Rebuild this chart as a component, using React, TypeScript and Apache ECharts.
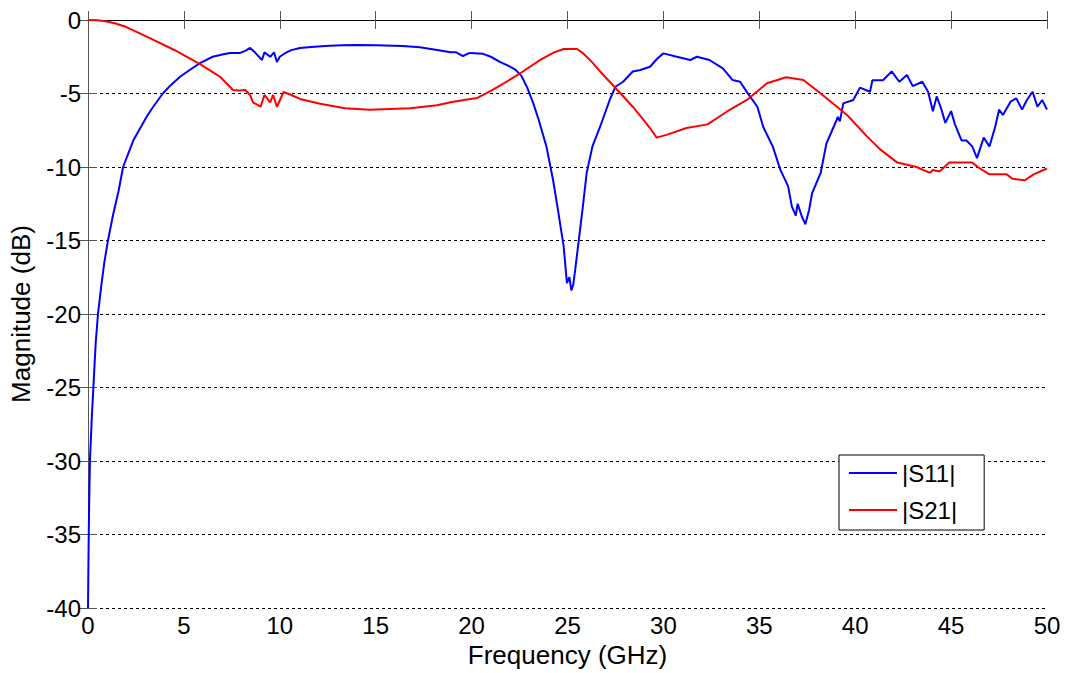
import React, { useEffect, useRef } from "react";
import * as echarts from "echarts";

const FONT = "'Liberation Sans', Arial, sans-serif";

const xTicks = [0, 5, 10, 15, 20, 25, 30, 35, 40, 45, 50];
const yTicks = [-40, -35, -30, -25, -20, -15, -10, -5, 0];

const seriesNames = ["|S11|", "|S21|"];

const s11Freq = [
  0, 0.03, 0.06, 0.1, 0.2, 0.3, 0.4, 0.52, 0.7, 0.85, 1.04, 1.3, 1.6, 1.83, 2.36, 3.05, 3.4, 3.9, 4.3, 4.8,
  5.3, 5.84, 6.5, 7.0, 7.4, 7.9, 8.2, 8.45, 8.7, 9.07, 9.2, 9.5, 9.7, 9.85, 10.0, 10.27, 10.6, 11.05, 11.8,
  12.6, 13.3, 14, 15, 16.4, 17.3, 18.2, 18.9, 19.2, 19.55, 19.9, 20.6, 21.0, 21.5, 21.9, 22.3, 22.6, 22.9,
  23.2, 23.5, 23.9, 24.25, 24.5, 24.8, 24.97, 25.1, 25.2, 25.3, 25.4, 25.55, 25.8, 26.0, 26.3, 26.7,
  27.2, 27.5, 27.9, 28.4, 28.8, 29.3, 29.7, 30.0, 30.7, 31.4, 31.75, 32.4, 33.1, 33.6, 34.0, 34.4, 34.9,
  35.2, 35.7, 36.1, 36.5, 36.7, 36.9, 37.0, 37.2, 37.4, 37.6, 37.75, 38.2, 38.5, 38.8, 39.1, 39.2, 39.38,
  39.9, 40.25, 40.77, 40.9, 41.45, 41.9, 42.3, 42.7, 43.0, 43.5, 43.8, 44.05, 44.25, 44.5, 44.7, 45.0,
  45.2, 45.55, 45.8, 46.1, 46.35, 46.7, 47.0, 47.3, 47.5, 47.7, 48.1, 48.4, 48.7, 48.95, 49.25, 49.5,
  49.75, 50,
];
const s11Mag = [
  -40, -36, -33, -30, -27, -24.5, -22, -20, -18, -16.5, -15, -13.3, -11.6, -10, -8.2, -6.6, -5.9, -5, -4.45, -3.86,
  -3.4, -2.93, -2.5, -2.35, -2.24, -2.25, -2.1, -1.9, -2.2, -2.72, -2.2, -2.5, -2.2, -2.86, -2.5, -2.26, -2.05, -1.9, -1.82,
  -1.75, -1.72, -1.7, -1.72, -1.77, -1.85, -2.04, -2.2, -2.2, -2.45, -2.24, -2.3, -2.5, -2.86, -3.1, -3.4, -3.8, -4.6,
  -5.6, -6.8, -8.6, -10.9, -12.9, -15.4, -17.9, -17.5, -18.4, -18.0, -17, -15.4, -12.7, -10.4, -8.6, -7.26,
  -5.44, -4.54, -4.2, -3.5, -3.4, -3.18, -2.6, -2.27, -2.5, -2.72, -2.5, -2.72, -3.29, -4.08, -4.2, -4.99, -5.9,
  -7.26, -8.6, -10.2, -11.3, -12.7, -13.3, -12.5, -13.3, -13.9, -12.9, -11.8, -10.4, -8.4, -7.5, -6.6, -6.9, -5.67,
  -5.44, -4.6, -4.88, -4.1, -4.1, -3.5, -4.2, -3.74, -4.5, -4.2, -4.88, -6.2, -5.2, -6.1, -7.0, -6.2,
  -7.1, -8.2, -8.2, -8.6, -9.4, -8.0, -8.6, -7.26, -6.1, -6.46, -5.56, -5.33, -6.1, -5.44, -4.88, -5.9,
  -5.44, -6.1,
];

const s21Freq = [
  0, 0.5, 0.9, 1.4, 2.0, 3.2, 4.5, 5.84, 6.5, 6.9, 7.56, 7.9, 8.2, 8.45, 8.6, 9.0, 9.2, 9.5, 9.65, 9.85, 10.2, 10.6,
  11.05, 12.1, 13.4, 14.7, 16.8, 18.2, 18.9, 19.6, 20.3, 21.1, 22.4, 23.6, 24.3, 24.8, 25.5, 25.8, 26.3,
  26.7, 27.6, 28.4, 28.9, 29.3, 29.65, 30.2, 31.2, 32.3, 33.3, 34.35, 35.4, 36.4, 37.3, 38.2, 39.05, 39.6,
  40.6, 41.3, 42.2, 43.2, 43.9, 44.05, 44.4, 44.9, 45.8, 46.1, 46.5, 47.0, 47.9, 48.2, 48.85, 49.3, 50,
];
const s21Mag = [
  0, -0.02, -0.08, -0.22, -0.48, -1.22, -2.04, -3.0, -3.54, -3.88, -4.76, -4.8, -4.76, -5.1, -5.6, -5.9, -5.1, -5.6, -5.1, -5.9, -4.9, -5.1,
  -5.37, -5.7, -6.0, -6.1, -6.0, -5.8, -5.6, -5.44, -5.3, -4.76, -3.74, -2.7, -2.2, -1.97, -1.97, -2.25, -2.9,
  -3.5, -4.76, -5.9, -6.7, -7.35, -8.0, -7.8, -7.35, -7.1, -6.24, -5.44, -4.3, -3.9, -4.08, -5.0, -5.9, -6.5,
  -7.9, -8.8, -9.7, -10.0, -10.4, -10.2, -10.3, -9.7, -9.7, -9.7, -10.1, -10.5, -10.5, -10.8, -10.9, -10.5, -10.1,
];

const zip = (xs: number[], ys: number[]) => xs.map((x, i) => [x, ys[i]]);

export default function App() {
  const ref = useRef<HTMLDivElement>(null);
  useEffect(() => {
    if (!ref.current) return;
    const chart = echarts.init(ref.current, undefined, { renderer: "svg" });
    const xMin = xTicks[0];
    const xMax = xTicks[xTicks.length - 1];
    const yMin = yTicks[0];
    const yMax = yTicks[yTicks.length - 1];
    const frame = { show: true, lineStyle: { color: "#000", width: 1 } };
    const tick = { show: true, inside: true, length: 9, lineStyle: { color: "#555", width: 1 } };
    chart.setOption({
      animation: false,
      backgroundColor: "#fff",
      textStyle: { fontFamily: FONT },
      grid: { left: 88, right: 20, top: 20, bottom: 65, containLabel: false },
      legend: {
        data: seriesNames.map((name) => ({ name, icon: "rect" })),
        orient: "vertical",
        left: 839,
        top: 455,
        backgroundColor: "#fff",
        borderColor: "#000",
        borderWidth: 1,
        borderRadius: 0,
        padding: [6, 27, 8, 10],
        itemWidth: 48,
        itemHeight: 2,
        itemGap: 13,
        textStyle: { fontSize: 24, color: "#000", fontFamily: FONT, lineHeight: 24 },
      },
      xAxis: [
        {
          type: "value",
          min: xMin,
          max: xMax,
          interval: 5,
          position: "bottom",
          axisLine: frame,
          axisTick: tick,
          splitLine: { show: false },
          axisLabel: { fontSize: 24, color: "#000", margin: 5, fontFamily: FONT },
          name: "Frequency (GHz)",
          nameLocation: "middle",
          nameGap: 29,
          nameTextStyle: { fontSize: 26, color: "#000", fontFamily: FONT },
        },
        {
          type: "value",
          min: xMin,
          max: xMax,
          interval: 5,
          position: "top",
          axisLine: frame,
          axisTick: tick,
          splitLine: { show: false },
          axisLabel: { show: false },
        },
      ],
      yAxis: [
        {
          type: "value",
          min: yMin,
          max: yMax,
          interval: 5,
          position: "left",
          axisLine: { show: true, lineStyle: { color: "#777", width: 1 } },
          axisTick: tick,
          splitLine: { show: true, lineStyle: { color: "#000", width: 1, type: [3, 3] } },
          axisLabel: { fontSize: 24, color: "#000", margin: 7, fontFamily: FONT },
          name: "Magnitude (dB)",
          nameLocation: "middle",
          nameGap: 54,
          nameRotate: 90,
          nameTextStyle: { fontSize: 26, color: "#000", fontFamily: FONT },
        },
        {
          type: "value",
          min: yMin,
          max: yMax,
          interval: 5,
          position: "right",
          axisLine: { show: true, lineStyle: { color: "#555", width: 1 } },
          axisTick: tick,
          splitLine: { show: false },
          axisLabel: { show: false },
        },
      ],
      series: [
        {
          name: seriesNames[0],
          type: "line",
          data: zip(s11Freq, s11Mag),
          symbol: "none",
          lineStyle: { color: "#0000ff", width: 2 },
          itemStyle: { color: "#0000ff" },
          z: 3,
        },
        {
          name: seriesNames[1],
          type: "line",
          data: zip(s21Freq, s21Mag),
          symbol: "none",
          lineStyle: { color: "#ff0000", width: 2 },
          itemStyle: { color: "#ff0000" },
          z: 3,
        },
      ],
    });
    return () => chart.dispose();
  }, []);
  return (
    <div
      ref={ref}
      style={{ position: "fixed", left: 0, top: 0, width: 1067, height: 673, background: "#fff" }}
    />
  );
}
